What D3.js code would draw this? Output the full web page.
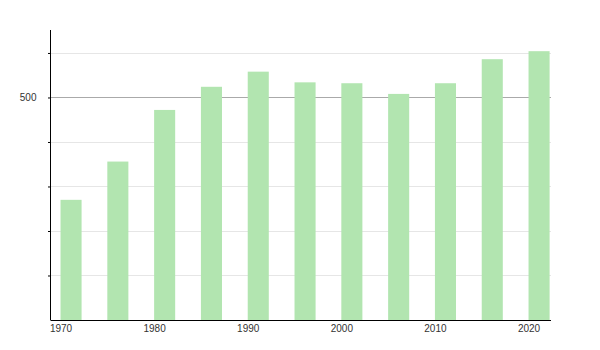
<!DOCTYPE html>
<html><head><meta charset="utf-8">
<script src="https://cdn.jsdelivr.net/npm/d3@7"></script>
<style>body{margin:0;background:#fff}svg{display:block}text{font-family:"Liberation Sans",Arial,sans-serif}</style>
</head><body>
<svg id="c" width="600" height="350"></svg>
<script>
const years = [1970, 1975, 1980, 1985, 1990, 1995, 2000, 2005, 2010, 2015, 2020];
const values = [385, 428, 486, 512, 529, 517, 516, 504, 516, 543, 552];
const xTicks = [1970, 1980, 1990, 2000, 2010, 2020];
const yGrid = [250, 300, 350, 400, 450, 500, 550];
const yLabels = [500];

const svg = d3.select("#c");
const x = d3.scaleLinear().domain([1968.93, 2022.4]).range([50.5, 551]);
const y = d3.scaleLinear().domain([250, 575.8]).range([320, 30]);
const barYears = 2.25;

// gridlines
svg.append("g").selectAll("line").data(yGrid.filter(v => v !== 250)).join("line")
  .attr("x1", 50.5).attr("x2", 551)
  .attr("y1", d => Math.round(y(d)) + 0.5).attr("y2", d => Math.round(y(d)) + 0.5)
  .attr("stroke", d => yLabels.includes(d) ? "#aaaaaa" : "#e6e6e6").attr("stroke-width", 1);

// bars
svg.append("g").selectAll("rect").data(years).join("rect")
  .attr("x", (d) => x(d))
  .attr("width", (d) => x(d + barYears) - x(d))
  .attr("y", (d, i) => y(values[i]))
  .attr("height", (d, i) => y(250) - y(values[i]))
  .attr("fill", "#b2e5b0");

// y axis
const ya = svg.append("g").attr("transform", "translate(50.5,0)")
  .call(d3.axisLeft(y).tickValues(yGrid.filter(v => v !== 250)).tickSize(2.5)
    .tickFormat(d => yLabels.includes(d) ? d : ""));
ya.select(".domain").attr("d", `M0,${y(575.8)}V${y(250)}`).attr("stroke", "#000");
ya.selectAll(".tick line").attr("stroke", "#000");
ya.selectAll(".tick text").attr("font-size", 10).attr("fill", "#333").attr("x", -14)
  .attr("font-family", '"Liberation Sans",Arial,sans-serif');

// x axis
const xa = svg.append("g").attr("transform", "translate(0,320.5)")
  .call(d3.axisBottom(x).tickValues(xTicks).tickSize(0).tickFormat(d3.format("d")));
xa.select(".domain").attr("d", `M50.5,0H551`).attr("stroke", "#000");
xa.selectAll(".tick text").attr("font-size", 10).attr("fill", "#333").attr("dy", "0.71em").attr("y", 4)
  .attr("font-family", '"Liberation Sans",Arial,sans-serif');
</script>
</body></html>
